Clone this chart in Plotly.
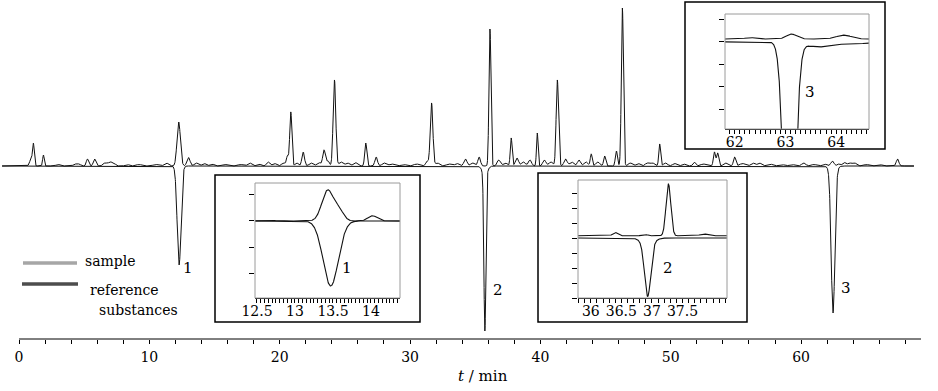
import numpy as np
import plotly.graph_objects as go

W, H = 938, 391
FONT = "DejaVu Serif"

# ---------------- main chromatogram (time in min, signal in arbitrary units) ----------------
sample_t = [0.9, 1.1, 1.87, 3.0, 4.3, 4.6, 5.25, 5.8, 6.6, 7.0, 7.3, 8.3, 9.2, 10.5, 11.3,
            12.25, 13.0, 13.6, 14.2, 14.8, 15.8, 17.0, 17.7, 18.4, 19.1, 19.6, 20.3, 20.6,
            20.85, 21.3, 21.8, 22.4, 23.0, 23.4, 23.7, 24.2, 24.7, 25.2, 25.8, 26.6, 27.4,
            28.0, 28.6, 29.5, 30.5, 31.3, 31.65, 32.1, 33.0, 33.6, 34.25, 34.8, 35.3, 36.13,
            36.8, 37.3, 37.76, 38.2, 38.7, 39.2, 39.76, 40.3, 40.8, 41.3, 41.93, 42.4, 42.96,
            43.5, 43.9, 44.4, 44.93, 45.83, 46.29, 46.9, 47.5, 48.2, 48.6, 49.15, 49.6, 50.3,
            51.0, 51.8, 52.5, 53.35, 53.6, 54.2, 54.9, 55.5, 56.3, 56.8, 57.6, 58.5, 59.3,
            60.2, 61.0, 61.8, 62.4, 62.9, 63.3, 63.7, 64.1, 65.0, 66.0, 67.4]
sample_h = [6, 22, 11, 1.5, 2, 2, 7, 7, 3, 4, 2.5, 1.5, 1.5, 1.5, 3,
            44, 8.5, 3, 2.5, 2, 1.5, 1.5, 3, 2, 4, 2.5, 3, 10,
            54, 3, 14, 3, 3.5, 16, 5, 86, 4, 3, 3.5, 23, 9,
            3, 2, 1.5, 2, 5, 63, 3, 2, 2.5, 7, 3, 9, 137,
            6, 3, 28, 8, 4, 6, 33, 6, 4, 86, 7, 4, 6,
            4, 12, 4, 10, 15, 158, 3, 2.5, 3, 3, 22, 3, 2.5,
            2, 4, 2, 14, 13, 3, 9, 2.5, 3, 3, 2, 1.5, 1.5,
            3, 1.5, 2, 5, 2, 3.5, 3, 3, 1.5, 1.5, 7]
sample_w = [0.1, 0.07, 0.06, 0.15, 0.12, 0.12, 0.09, 0.1, 0.15, 0.15, 0.12, 0.15, 0.2, 0.2, 0.15,
            0.13, 0.12, 0.15, 0.15, 0.15, 0.2, 0.2, 0.15, 0.15, 0.12, 0.15, 0.15, 0.08,
            0.08, 0.12, 0.1, 0.15, 0.15, 0.1, 0.1, 0.1, 0.15, 0.15, 0.15, 0.08, 0.1,
            0.15, 0.2, 0.2, 0.2, 0.1, 0.1, 0.15, 0.2, 0.15, 0.12, 0.15, 0.1, 0.075,
            0.12, 0.15, 0.07, 0.12, 0.15, 0.12, 0.06, 0.12, 0.15, 0.09, 0.12, 0.15, 0.12,
            0.15, 0.07, 0.15, 0.08, 0.08, 0.08, 0.15, 0.15, 0.15, 0.15, 0.07, 0.15, 0.15,
            0.15, 0.1, 0.2, 0.08, 0.08, 0.15, 0.09, 0.2, 0.15, 0.15, 0.2, 0.2, 0.2,
            0.15, 0.2, 0.15, 0.12, 0.12, 0.12, 0.15, 0.15, 0.2, 0.2, 0.1]

ref_t = [12.28, 35.74, 35.74, 62.45, 62.45]
ref_h = [-99, -157, -8, -141, -6]
ref_w = [0.145, 0.075, 0.2, 0.14, 0.25]
run_start, run_end = -1.3, 68.66
main_ticks = [0, 10, 20, 30, 40, 50, 60]

# ---------------- inset 1 (peak 1) ----------------
in1_range = [12.474, 14.382]
in1_ticks = [12.5, 13, 13.5, 14]
in1_sample_t = [12.65, 13.43, 13.58, 14.02]
in1_sample_h = [0.04, 1.18, 0.4, 0.2]
in1_sample_w = [0.08, 0.075, 0.06, 0.06]
in1_ref_t = [13.47]
in1_ref_h = [-2.5]
in1_ref_w = [0.1]

# ---------------- inset 2 (peak 2) ----------------
in2_range = [35.79, 38.229]
in2_ticks = [36, 36.5, 37, 37.5]
in2_sample_t = [36.4, 36.88, 37.27, 37.85]
in2_sample_h = [0.22, 0.1, 3.45, 0.12]
in2_sample_w = [0.04, 0.04, 0.039, 0.06]
in2_sample_base = 0.15
in2_ref_t = [36.93, 36.93]
in2_ref_h = [-3.5, -0.4]
in2_ref_w = [0.05, 0.1]

# ---------------- inset 3 (peak 3) ----------------
in3_range = [61.809, 64.646]
in3_ticks = [62, 63, 64]
in3_sample_t = [62.3, 63.12, 64.15]
in3_sample_h = [0.06, 0.22, 0.17]
in3_sample_w = [0.1, 0.1, 0.15]
in3_sample_base = 0.13
in3_ref_t = [63.08, 63.6, 64.2]
in3_ref_h = [-12, -0.2, -0.1]
in3_ref_w = [0.103, 0.2, 0.4]


def chrom(t0, t1, centers, heights, widths, base=0.0, dt=0.005):
    t = np.arange(t0, t1 + dt / 2, dt)
    y = np.full_like(t, base)
    for c, h, w in zip(centers, heights, widths):
        y += h * np.exp(-((t - c) ** 2) / (2 * w * w))
    return t, y


def px(x):
    return x / W


def py(y):
    return 1 - y / H


fig = go.Figure()
line_main = dict(color="#111111", width=1)

t, y = chrom(run_start, run_end, sample_t, sample_h, sample_w, dt=0.01)
fig.add_trace(go.Scatter(x=t, y=y, mode="lines", line=line_main, name="sample",
                         xaxis="x", yaxis="y", showlegend=False, hoverinfo="skip"))
t, y = chrom(run_start, run_end, ref_t, ref_h, ref_w, dt=0.01)
fig.add_trace(go.Scatter(x=t, y=y, mode="lines", line=line_main, name="reference substances",
                         xaxis="x", yaxis="y", showlegend=False, hoverinfo="skip"))

insets = [
    ("x2", "y2", in1_range, (in1_sample_t, in1_sample_h, in1_sample_w, 0.0),
     (in1_ref_t, in1_ref_h, in1_ref_w)),
    ("x3", "y3", in2_range, (in2_sample_t, in2_sample_h, in2_sample_w, in2_sample_base),
     (in2_ref_t, in2_ref_h, in2_ref_w)),
    ("x4", "y4", in3_range, (in3_sample_t, in3_sample_h, in3_sample_w, in3_sample_base),
     (in3_ref_t, in3_ref_h, in3_ref_w)),
]
for xa, ya, rng, s, r in insets:
    t, y = chrom(rng[0], rng[1], s[0], s[1], s[2], base=s[3], dt=0.002)
    fig.add_trace(go.Scatter(x=t, y=y, mode="lines", line=dict(color="#111111", width=1.1),
                             xaxis=xa, yaxis=ya, showlegend=False, hoverinfo="skip"))
    t, y = chrom(rng[0], rng[1], r[0], r[1], r[2], dt=0.002)
    fig.add_trace(go.Scatter(x=t, y=y, mode="lines", line=dict(color="#111111", width=1.1),
                             xaxis=xa, yaxis=ya, showlegend=False, hoverinfo="skip"))

tickfont = dict(family=FONT, size=14, color="black")

main_x0, main_x1 = -1.306, 69.2
layout = dict(
    template="none",
    width=W, height=H,
    margin=dict(l=0, r=0, t=0, b=0, pad=0, autoexpand=False),
    paper_bgcolor="white", plot_bgcolor="rgba(0,0,0,0)",
    showlegend=False,
    font=dict(family=FONT, size=14, color="black"),
    xaxis=dict(domain=[px(2), px(921)], range=[main_x0, main_x1], anchor="y",
               automargin=False,
               showline=False, showgrid=False, zeroline=False,
               ticks="outside", ticklen=4, tickcolor="black", tickwidth=1,
               tickvals=main_ticks, tickfont=tickfont, ticklabelstandoff=1,
               minor=dict(dtick=2, tick0=0, ticks="outside", ticklen=4, tickcolor="black")),
    yaxis=dict(domain=[py(339), py(5)], range=[-173, 161], visible=False, anchor="x",
               automargin=False),
)

inset_specs = [
    ("xaxis2", "yaxis2", 255, 400, 183, 298, in1_range, [-2.96, 1.46], in1_ticks, 0.05, [1, 0, -1, -2]),
    ("xaxis3", "yaxis3", 578, 727, 180, 298, in2_range, [-4.0, 3.87], in2_ticks, 0.1, [3, 2, 1, 0, -1, -2, -3, -4]),
    ("xaxis4", "yaxis4", 725, 869, 14, 129, in3_range, [-3.87, 1.24], in3_ticks, 0.1, [1, 0, -1, -2, -3]),
]
for xk, yk, x0, x1, yt, yb, rng, yr, tv, mn, yt_vals in inset_specs:
    n = xk[5:]
    layout[xk] = dict(domain=[px(x0), px(x1)], range=rng, anchor="y" + n, automargin=False,
                      showline=True, linecolor="black", linewidth=1, showgrid=False, zeroline=False,
                      ticks="outside", ticklen=4, tickcolor="black", tickvals=tv,
                      tickfont=tickfont, ticklabelstandoff=-4,
                      minor=dict(dtick=mn, tick0=0, ticks="outside", ticklen=4, tickcolor="black"))
    layout[yk] = dict(domain=[py(yb), py(yt)], range=yr, anchor="x" + n, automargin=False,
                      showline=False, showgrid=False, zeroline=False,
                      ticks="outside", ticklen=5, tickcolor="black",
                      tickvals=yt_vals, showticklabels=False)

fig.update_layout(**layout)

shapes = []
shapes.append(dict(type="line", xref="x", yref="paper", x0=0, x1=main_x1,
                   y0=py(339), y1=py(339), line=dict(color="black", width=1)))
outer = [(215, 175, 420, 322), (538, 173, 747, 322), (685, 2, 885, 149)]
inner = [(255, 183, 400, 298), (578, 180, 727, 298), (725, 14, 869, 129)]
for (a, b, c, d) in outer:
    shapes.append(dict(type="rect", xref="paper", yref="paper", x0=px(a), x1=px(c),
                       y0=py(d), y1=py(b), line=dict(color="black", width=1.5),
                       fillcolor="rgba(0,0,0,0)", layer="above"))
for (a, b, c, d) in inner:
    shapes.append(dict(type="rect", xref="paper", yref="paper", x0=px(a), x1=px(c),
                       y0=py(d), y1=py(b), line=dict(color="#9a9a9a", width=1),
                       fillcolor="rgba(0,0,0,0)", layer="above"))
shapes.append(dict(type="line", xref="paper", yref="paper", x0=px(23), x1=px(77),
                   y0=py(263), y1=py(263), line=dict(color="#a6a6a6", width=3.5)))
shapes.append(dict(type="line", xref="paper", yref="paper", x0=px(22), x1=px(78),
                   y0=py(284), y1=py(284), line=dict(color="#4d4d4d", width=3.5)))
fig.update_layout(shapes=shapes)

ann_font = dict(family=FONT, size=15, color="black")
annotations = []
for text, x, y in [("1", 188, 268), ("2", 498, 290), ("3", 846, 288),
                   ("1", 347, 268), ("2", 668, 268), ("3", 810, 92)]:
    annotations.append(dict(text=text, x=px(x), y=py(y), xref="paper", yref="paper",
                            xanchor="center", yanchor="middle", showarrow=False, font=ann_font))
leg_font = dict(family=FONT, size=14, color="black")
for text, x, y in [("sample", 83, 261), ("reference", 88, 290), ("substances", 97, 310)]:
    annotations.append(dict(text=text, x=px(x), y=py(y), xref="paper", yref="paper",
                            xanchor="left", yanchor="middle", showarrow=False, font=leg_font))
annotations.append(dict(text="<i>t</i> / min", x=px(483), y=py(376), xref="paper", yref="paper",
                        xanchor="center", yanchor="middle", showarrow=False,
                        font=dict(family=FONT, size=15, color="black")))
fig.update_layout(annotations=annotations)

fig.write_html("out.html", config={"displayModeBar": False, "staticPlot": True},
               post_script="document.body.style.margin='0';")
